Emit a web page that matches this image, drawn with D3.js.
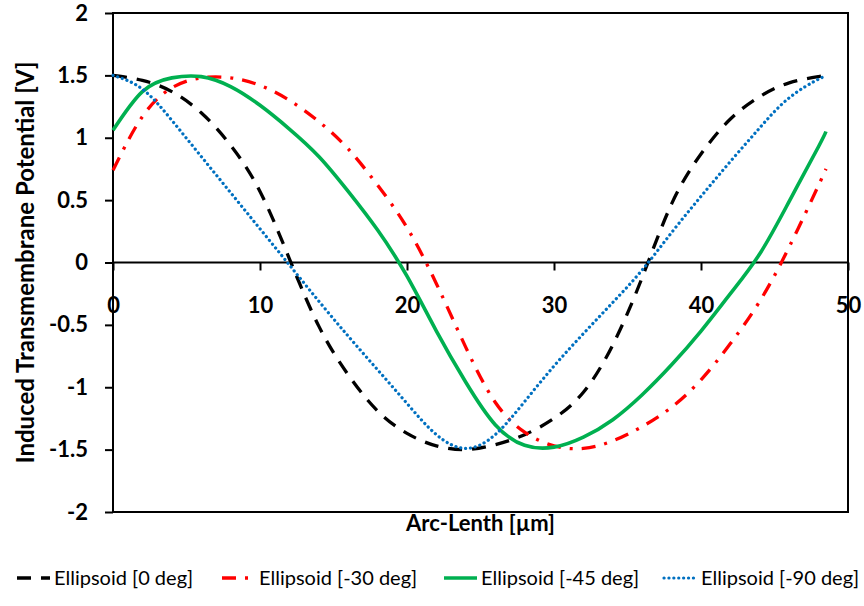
<!DOCTYPE html>
<html>
<head>
<meta charset="utf-8">
<script src="https://cdn.jsdelivr.net/npm/d3@7/dist/d3.min.js"></script>
<style>
  html, body { margin: 0; padding: 0; background: #fff; }
  svg { display: block; font-family: Lato, "Open Sans", sans-serif; }
</style>
</head>
<body>
<div id="chart"></div>
<script>
// Arc length samples (µm) shared by every series
const arcLength = [0, 2, 4, 6, 8, 10, 12, 14, 16, 18, 20, 22, 24, 26, 28, 30, 32, 34, 36, 38, 40, 42, 44, 46, 48, 48.5];

// Induced transmembrane potential (V)
const deg0  = [1.50, 1.46, 1.37, 1.20, 0.94, 0.57, 0.03, -0.51, -0.90, -1.19, -1.37, -1.47, -1.50, -1.46, -1.38, -1.25, -1.04, -0.66, -0.12, 0.47, 0.87, 1.15, 1.33, 1.44, 1.49, 1.50];
const deg30 = [0.74, 1.17, 1.40, 1.48, 1.48, 1.42, 1.30, 1.13, 0.91, 0.62, 0.28, -0.17, -0.68, -1.12, -1.36, -1.47, -1.49, -1.43, -1.315, -1.16, -0.94, -0.65, -0.31, 0.125, 0.62, 0.75];
const deg45 = [1.06, 1.37, 1.48, 1.49, 1.41, 1.26, 1.07, 0.85, 0.57, 0.26, -0.11, -0.55, -0.96, -1.30, -1.465, -1.48, -1.40, -1.26, -1.06, -0.82, -0.55, -0.25, 0.07, 0.49, 0.93, 1.05];
const deg90 = [1.50, 1.39, 1.14, 0.85, 0.56, 0.27, -0.02, -0.31, -0.59, -0.86, -1.13, -1.38, -1.49, -1.38, -1.115, -0.83, -0.57, -0.32, -0.06, 0.24, 0.53, 0.81, 1.08, 1.32, 1.47, 1.49];

const seriesNames = ['Ellipsoid [0 deg]', 'Ellipsoid [-30 deg]', 'Ellipsoid [-45 deg]', 'Ellipsoid [-90 deg]'];
const xTicks = [0, 10, 20, 30, 40, 50];
const yTicks = [-2, -1.5, -1, -0.5, 0, 0.5, 1, 1.5, 2];

(function() {
  const W = 864, H = 606;
  const plot = { left: 113, right: 848, top: 13, bottom: 512 };

  const svg = d3.select('#chart').append('svg')
    .attr('width', W).attr('height', H);

  const x = d3.scaleLinear().domain([0, 50]).range([plot.left, plot.right]);
  const y = d3.scaleLinear().domain([-2, 2]).range([plot.bottom, plot.top]);

  const styles = [
    { color: '#000000', dash: '14,10', width: 3.3, cap: 'butt' },
    { color: '#FF0000', dash: '14,9,3,9', width: 3.3, cap: 'butt' },
    { color: '#00B050', dash: null, width: 3.6, cap: 'butt' },
    { color: '#0070C0', dash: '0.1,4.8', width: 3.2, cap: 'round' }
  ];
  const series = [deg0, deg30, deg45, deg90].map((vals, i) => ({
    name: seriesNames[i],
    points: vals.map((v, j) => ({ s: arcLength[j], v })),
    ...styles[i]
  }));

  // frame
  svg.append('rect')
    .attr('x', plot.left).attr('y', plot.top)
    .attr('width', plot.right - plot.left).attr('height', plot.bottom - plot.top)
    .attr('fill', 'none').attr('stroke', '#000').attr('stroke-width', 2);

  // y axis
  const yAxis = svg.append('g')
    .attr('transform', `translate(${plot.left},0)`)
    .call(d3.axisLeft(y).tickValues(yTicks).tickSize(8).tickPadding(17).tickFormat(d => d));
  yAxis.select('.domain').remove();
  yAxis.selectAll('line').attr('stroke', '#000').attr('stroke-width', 2);
  yAxis.selectAll('text')
    .attr('fill', '#000').attr('font-size', 22).attr('font-weight', 'bold')
    .attr('font-family', 'Lato, sans-serif');

  // x axis along zero
  const xAxis = svg.append('g')
    .attr('transform', `translate(0,${y(0)})`)
    .call(d3.axisBottom(x).tickValues(xTicks).tickSize(8).tickFormat(d => d));
  xAxis.select('.domain').remove();
  svg.append('line')
    .attr('x1', plot.left).attr('x2', plot.right)
    .attr('y1', y(0)).attr('y2', y(0))
    .attr('stroke', '#000').attr('stroke-width', 2);
  xAxis.selectAll('line').attr('stroke', '#000').attr('stroke-width', 2);
  xAxis.selectAll('text')
    .attr('y', 50).attr('dy', null)
    .attr('fill', '#000').attr('font-size', 22).attr('font-weight', 'bold')
    .attr('font-family', 'Lato, sans-serif');

  // curves
  const line = d3.line()
    .x(d => x(d.s))
    .y(d => y(d.v))
    .curve(d3.curveNatural);

  svg.append('g')
    .selectAll('path')
    .data(series)
    .join('path')
    .attr('d', d => line(d.points))
    .attr('fill', 'none')
    .attr('stroke', d => d.color)
    .attr('stroke-width', d => d.width)
    .attr('stroke-dasharray', d => d.dash)
    .attr('stroke-linecap', d => d.cap);

  // axis titles
  svg.append('text')
    .attr('transform', `translate(34,${(plot.top + plot.bottom) / 2}) rotate(-90)`)
    .attr('text-anchor', 'middle')
    .attr('font-size', 24).attr('font-weight', 'bold')
    .text('Induced Transmembrane Potential [V]');

  svg.append('text')
    .attr('x', (plot.left + plot.right) / 2).attr('y', 531)
    .attr('text-anchor', 'middle')
    .attr('font-size', 22).attr('font-weight', 'bold')
    .text('Arc-Lenth [µm]');

  // legend
  const legendX = [17, 222, 444, 664];
  const legend = svg.append('g')
    .selectAll('g')
    .data(series)
    .join('g')
    .attr('transform', (d, i) => `translate(${legendX[i]},578)`);
  legend.append('line')
    .attr('x1', 0).attr('x2', 33)
    .attr('stroke', d => d.color)
    .attr('stroke-width', d => d.width)
    .attr('stroke-dasharray', d => d.dash)
    .attr('stroke-linecap', d => d.cap);
  legend.append('text')
    .attr('x', 37).attr('dy', '0.35em')
    .attr('font-size', 20)
    .text(d => d.name);
})();
</script>
</body>
</html>
